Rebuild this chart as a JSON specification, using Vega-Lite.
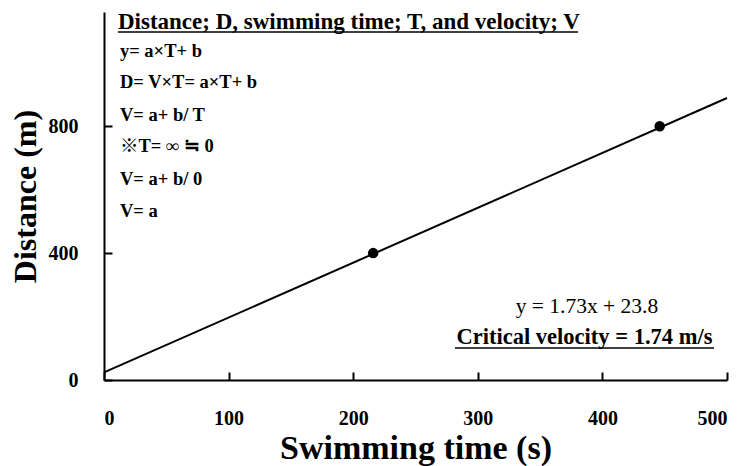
{
  "$schema": "https://vega.github.io/schema/vega-lite/v6.json",
  "width": 623,
  "height": 368,
  "autosize": "none",
  "padding": {"left": 104, "top": 12, "right": 16, "bottom": 86},
  "background": "white",
  "config": {
    "view": {"stroke": null},
    "axis": {
      "grid": false,
      "domainColor": "black",
      "domainWidth": 2,
      "tickColor": "black",
      "tickWidth": 2,
      "tickSize": -8,
      "labelFont": "Liberation Serif",
      "labelFontWeight": "bold",
      "labelFontSize": 20,
      "labelColor": "black",
      "titleFont": "Liberation Serif",
      "titleFontWeight": "bold",
      "titleColor": "black"
    }
  },
  "datasets": {
    "fit": [{"t": 0, "d": 23.8}, {"t": 500, "d": 888.8}],
    "obs": [{"t": 216, "d": 400}, {"t": 446, "d": 800}],
    "notes": [
      {"t": 12.8, "d": 1037, "label": "y= a×T+ b"},
      {"t": 12.8, "d": 939, "label": "D= V×T= a×T+ b"},
      {"t": 12.8, "d": 835, "label": "V= a+ b/ T"},
      {"t": 12.8, "d": 738, "label": "※T= ∞ ≒ 0"},
      {"t": 12.8, "d": 634, "label": "V= a+ b/ 0"},
      {"t": 12.8, "d": 533, "label": "V= a"}
    ],
    "heading": [{"t": 11.2, "d": 1106, "label": "Distance; D, swimming time; T, and velocity; V"}],
    "equation": [{"t": 387.6, "d": 230, "label": "y = 1.73x + 23.8"}],
    "critical": [{"t": 385.6, "d": 113.5, "label": "Critical velocity = 1.74 m/s"}],
    "underlines": [
      {"t": 11.2, "t2": 380.4, "d": 1097},
      {"t": 281.7, "t2": 489.6, "d": 101}
    ]
  },
  "layer": [
    {
      "data": {"name": "fit"},
      "mark": {"type": "line", "color": "black", "strokeWidth": 2},
      "encoding": {
        "x": {
          "field": "t", "type": "quantitative",
          "scale": {"domain": [0, 500], "nice": false, "zero": false},
          "axis": {"values": [0, 100, 200, 300, 400, 500], "title": "Swimming time (s)", "titleFontSize": 34, "labelPadding": 36, "titlePadding": 3}
        },
        "y": {
          "field": "d", "type": "quantitative",
          "scale": {"domain": [0, 1160], "nice": false, "zero": false},
          "axis": {"values": [0, 400, 800], "title": "Distance (m)", "titleFontSize": 32, "labelPadding": 34, "titlePadding": 6}
        }
      }
    },
    {
      "data": {"name": "obs"},
      "mark": {"type": "point", "filled": true, "color": "black", "size": 110, "opacity": 1},
      "encoding": {
        "x": {"field": "t", "type": "quantitative"},
        "y": {"field": "d", "type": "quantitative"}
      }
    },
    {
      "data": {"name": "notes"},
      "mark": {"type": "text", "align": "left", "baseline": "middle", "font": "Liberation Serif, Noto Sans CJK JP", "fontWeight": "bold", "fontSize": 18.5, "color": "black"},
      "encoding": {
        "x": {"field": "t", "type": "quantitative"},
        "y": {"field": "d", "type": "quantitative"},
        "text": {"field": "label"}
      }
    },
    {
      "data": {"name": "heading"},
      "mark": {"type": "text", "align": "left", "baseline": "alphabetic", "font": "Liberation Serif", "fontWeight": "bold", "fontSize": 23, "color": "black"},
      "encoding": {
        "x": {"field": "t", "type": "quantitative"},
        "y": {"field": "d", "type": "quantitative"},
        "text": {"field": "label"}
      }
    },
    {
      "data": {"name": "equation"},
      "mark": {"type": "text", "align": "center", "baseline": "middle", "font": "Liberation Serif", "fontSize": 21.5, "color": "black"},
      "encoding": {
        "x": {"field": "t", "type": "quantitative"},
        "y": {"field": "d", "type": "quantitative"},
        "text": {"field": "label"}
      }
    },
    {
      "data": {"name": "critical"},
      "mark": {"type": "text", "align": "center", "baseline": "alphabetic", "font": "Liberation Serif", "fontWeight": "bold", "fontSize": 22.5, "color": "black"},
      "encoding": {
        "x": {"field": "t", "type": "quantitative"},
        "y": {"field": "d", "type": "quantitative"},
        "text": {"field": "label"}
      }
    },
    {
      "data": {"name": "underlines"},
      "mark": {"type": "rule", "color": "black", "strokeWidth": 1.5},
      "encoding": {
        "x": {"field": "t", "type": "quantitative"},
        "x2": {"field": "t2"},
        "y": {"field": "d", "type": "quantitative"}
      }
    }
  ]
}
